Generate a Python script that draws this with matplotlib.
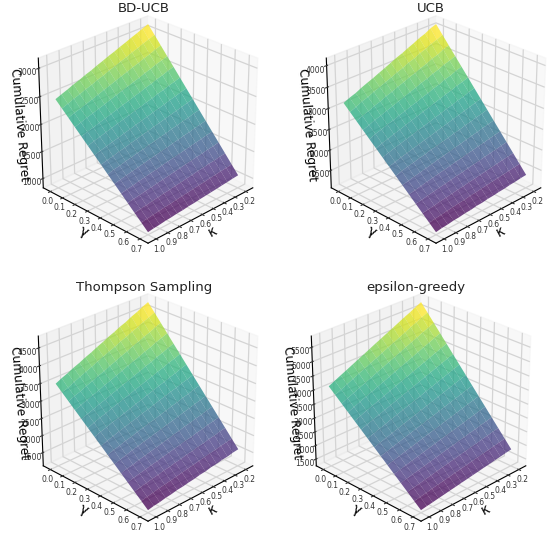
import matplotlib
matplotlib.use("Agg")
import matplotlib.pyplot as plt
from matplotlib.ticker import MultipleLocator
import numpy as np

kappa = [0.2, 0.25, 0.3, 0.35, 0.4, 0.45, 0.5, 0.55, 0.6, 0.65, 0.7, 0.75, 0.8, 0.85, 0.9, 0.95, 1.0]
gamma = [0.0, 0.05, 0.1, 0.15, 0.2, 0.25, 0.3, 0.35, 0.4, 0.45, 0.5, 0.55, 0.6, 0.65, 0.7]
kappa_ticks = [0.2, 0.3, 0.4, 0.5, 0.6, 0.7, 0.8, 0.9, 1.0]
gamma_ticks = [0.0, 0.1, 0.2, 0.3, 0.4, 0.5, 0.6, 0.7]

titles = ["BD-UCB", "UCB", "Thompson Sampling", "epsilon-greedy"]

# rows follow gamma, columns follow kappa, estimated off the surfaces
bd_ucb = [
    [3130, 3090, 3044, 3005, 2960, 2920, 2875, 2837, 2792, 2752, 2705, 2668, 2622, 2585, 2538, 2498, 2455],
    [2982, 2940, 2905, 2860, 2825, 2780, 2745, 2700, 2665, 2620, 2585, 2540, 2505, 2462, 2425, 2380, 2342],
    [2834, 2800, 2755, 2722, 2680, 2645, 2605, 2570, 2530, 2492, 2455, 2415, 2378, 2340, 2300, 2268, 2229],
    [2686, 2648, 2618, 2578, 2545, 2505, 2472, 2435, 2402, 2365, 2330, 2292, 2258, 2222, 2190, 2150, 2115],
    [2538, 2508, 2470, 2440, 2402, 2372, 2335, 2305, 2270, 2238, 2203, 2170, 2136, 2105, 2068, 2038, 2002],
    [2391, 2358, 2330, 2295, 2268, 2232, 2205, 2170, 2142, 2110, 2078, 2050, 2015, 1988, 1952, 1925, 1889],
    [2243, 2216, 2184, 2158, 2126, 2098, 2070, 2040, 2012, 1985, 1953, 1928, 1895, 1870, 1838, 1812, 1776],
    [2095, 2070, 2040, 2016, 1988, 1962, 1935, 1910, 1880, 1858, 1827, 1802, 1772, 1750, 1718, 1695, 1663],
    [1947, 1925, 1896, 1875, 1848, 1826, 1798, 1778, 1750, 1730, 1700, 1680, 1652, 1632, 1600, 1582, 1549],
    [1799, 1778, 1755, 1730, 1710, 1686, 1665, 1640, 1620, 1596, 1575, 1552, 1530, 1508, 1485, 1460, 1436],
    [1651, 1632, 1610, 1590, 1570, 1550, 1528, 1510, 1488, 1470, 1445, 1428, 1405, 1388, 1362, 1345, 1323],
    [1504, 1484, 1468, 1448, 1432, 1412, 1396, 1376, 1360, 1340, 1322, 1304, 1285, 1268, 1248, 1232, 1210],
    [1356, 1342, 1322, 1310, 1290, 1278, 1258, 1244, 1226, 1212, 1192, 1180, 1160, 1146, 1126, 1114, 1096],
    [1208, 1192, 1180, 1165, 1152, 1136, 1124, 1110, 1095, 1082, 1068, 1052, 1040, 1024, 1012, 996, 983],
    [1060, 1050, 1036, 1026, 1012, 1002, 990, 980, 965, 958, 942, 935, 920, 912, 896, 886, 870],
]
ucb = [
    [4110, 4062, 3985, 3935, 3865, 3805, 3738, 3685, 3620, 3555, 3495, 3430, 3375, 3315, 3245, 3195, 3130],
    [3916, 3850, 3805, 3735, 3690, 3620, 3575, 3505, 3455, 3395, 3340, 3280, 3225, 3160, 3115, 3045, 2987],
    [3721, 3675, 3605, 3565, 3500, 3450, 3390, 3345, 3285, 3235, 3175, 3130, 3065, 3020, 2955, 2905, 2844],
    [3527, 3470, 3430, 3370, 3325, 3265, 3225, 3165, 3120, 3065, 3015, 2960, 2915, 2860, 2815, 2755, 2701],
    [3333, 3290, 3232, 3195, 3135, 3095, 3040, 3000, 2945, 2905, 2850, 2810, 2755, 2715, 2660, 2620, 2558],
    [3139, 3088, 3052, 3000, 2962, 2915, 2872, 2825, 2782, 2735, 2695, 2650, 2600, 2560, 2510, 2470, 2416],
    [2944, 2905, 2855, 2822, 2775, 2740, 2690, 2655, 2610, 2570, 2530, 2488, 2445, 2405, 2365, 2320, 2273],
    [2750, 2715, 2670, 2640, 2595, 2560, 2520, 2485, 2445, 2408, 2370, 2332, 2292, 2255, 2220, 2175, 2130],
    [2556, 2515, 2490, 2445, 2420, 2375, 2350, 2310, 2280, 2240, 2215, 2170, 2145, 2105, 2075, 2035, 1987],
    [2361, 2332, 2298, 2268, 2235, 2205, 2170, 2140, 2108, 2075, 2045, 2010, 1980, 1945, 1915, 1880, 1844],
    [2167, 2135, 2112, 2078, 2055, 2022, 1998, 1965, 1938, 1910, 1880, 1855, 1822, 1798, 1765, 1735, 1701],
    [1973, 1950, 1920, 1898, 1870, 1845, 1820, 1795, 1765, 1745, 1715, 1690, 1665, 1640, 1615, 1585, 1558],
    [1779, 1752, 1735, 1708, 1690, 1662, 1645, 1618, 1600, 1572, 1555, 1530, 1505, 1490, 1460, 1440, 1416],
    [1584, 1568, 1545, 1530, 1505, 1490, 1470, 1452, 1430, 1415, 1390, 1378, 1355, 1338, 1315, 1298, 1273],
    [1390, 1378, 1358, 1348, 1325, 1315, 1295, 1285, 1262, 1255, 1230, 1222, 1200, 1190, 1168, 1155, 1130],
]
thompson = [
    [4750, 4680, 4590, 4520, 4430, 4365, 4280, 4210, 4125, 4050, 3965, 3895, 3810, 3740, 3655, 3585, 3500],
    [4525, 4445, 4380, 4295, 4230, 4150, 4085, 4000, 3935, 3860, 3785, 3705, 3635, 3560, 3485, 3400, 3334],
    [4300, 4235, 4155, 4095, 4020, 3955, 3875, 3815, 3735, 3670, 3590, 3530, 3450, 3385, 3305, 3245, 3169],
    [4075, 4005, 3945, 3870, 3810, 3740, 3675, 3610, 3540, 3475, 3405, 3345, 3270, 3205, 3140, 3070, 3003],
    [3850, 3790, 3722, 3665, 3595, 3540, 3470, 3415, 3345, 3285, 3220, 3160, 3090, 3035, 2965, 2905, 2837],
    [3625, 3562, 3510, 3445, 3392, 3330, 3275, 3215, 3160, 3095, 3040, 2980, 2925, 2860, 2810, 2745, 2671],
    [3400, 3350, 3288, 3240, 3180, 3130, 3070, 3020, 2955, 2910, 2845, 2800, 2735, 2690, 2625, 2575, 2506],
    [3175, 3120, 3075, 3020, 2975, 2920, 2875, 2820, 2765, 2725, 2665, 2620, 2565, 2520, 2460, 2410, 2340],
    [2950, 2905, 2850, 2810, 2755, 2715, 2660, 2620, 2565, 2530, 2475, 2435, 2380, 2340, 2285, 2240, 2174],
    [2725, 2680, 2640, 2590, 2550, 2505, 2460, 2420, 2370, 2330, 2285, 2245, 2200, 2160, 2110, 2060, 2009],
    [2500, 2462, 2415, 2382, 2335, 2300, 2255, 2220, 2170, 2135, 2090, 2055, 2010, 1975, 1925, 1890, 1843],
    [2275, 2235, 2205, 2162, 2130, 2090, 2060, 2020, 1985, 1945, 1910, 1870, 1840, 1800, 1765, 1725, 1677],
    [2050, 2020, 1980, 1955, 1915, 1890, 1850, 1825, 1780, 1760, 1715, 1695, 1650, 1625, 1590, 1555, 1511],
    [1825, 1795, 1768, 1738, 1710, 1680, 1650, 1620, 1590, 1560, 1530, 1500, 1470, 1445, 1410, 1380, 1346],
    [1600, 1580, 1545, 1530, 1495, 1480, 1440, 1425, 1390, 1370, 1340, 1325, 1290, 1270, 1235, 1215, 1180],
]
epsilon = [
    [5790, 5690, 5580, 5485, 5380, 5275, 5175, 5070, 4970, 4865, 4760, 4660, 4555, 4450, 4350, 4245, 4140],
    [5509, 5415, 5310, 5220, 5115, 5020, 4920, 4825, 4725, 4625, 4530, 4430, 4335, 4235, 4135, 4040, 3940],
    [5229, 5130, 5045, 4945, 4860, 4765, 4670, 4575, 4485, 4390, 4300, 4205, 4110, 4020, 3925, 3835, 3740],
    [4948, 4865, 4770, 4690, 4595, 4510, 4420, 4335, 4245, 4160, 4070, 3985, 3895, 3810, 3720, 3630, 3540],
    [4667, 4580, 4505, 4420, 4340, 4255, 4175, 4090, 4010, 3925, 3845, 3760, 3680, 3595, 3515, 3425, 3340],
    [4387, 4310, 4230, 4155, 4075, 4000, 3920, 3845, 3765, 3690, 3610, 3535, 3455, 3380, 3300, 3220, 3140],
    [4106, 4030, 3960, 3885, 3815, 3740, 3670, 3595, 3525, 3450, 3380, 3305, 3235, 3160, 3090, 3010, 2940],
    [3825, 3760, 3690, 3625, 3555, 3490, 3420, 3350, 3285, 3215, 3150, 3080, 3015, 2945, 2880, 2805, 2740],
    [3544, 3480, 3420, 3355, 3295, 3230, 3170, 3105, 3045, 2980, 2920, 2855, 2795, 2730, 2670, 2600, 2540],
    [3264, 3205, 3150, 3090, 3035, 2975, 2920, 2860, 2805, 2745, 2690, 2630, 2575, 2515, 2460, 2395, 2340],
    [2983, 2930, 2880, 2825, 2775, 2720, 2670, 2615, 2565, 2510, 2460, 2405, 2355, 2300, 2250, 2190, 2140],
    [2702, 2655, 2610, 2560, 2515, 2465, 2420, 2370, 2325, 2275, 2230, 2180, 2135, 2085, 2040, 1985, 1940],
    [2421, 2380, 2335, 2295, 2250, 2210, 2165, 2125, 2080, 2040, 1995, 1955, 1910, 1870, 1825, 1785, 1740],
    [2141, 2105, 2065, 2030, 1990, 1955, 1915, 1880, 1840, 1805, 1765, 1730, 1690, 1655, 1615, 1580, 1540],
    [1860, 1830, 1795, 1765, 1730, 1700, 1665, 1635, 1600, 1570, 1535, 1505, 1470, 1440, 1405, 1375, 1340],
]
surfaces = [bd_ucb, ucb, thompson, epsilon]

W, H = 549, 536
fig = plt.figure(figsize=(W / 100, H / 100), dpi=100)

# box centre and title centre in pixels from the top left
centres = [(144.5, 128), (432.5, 128), (144.5, 406), (417.5, 406)]
title_pos = [(144, 8), (431, 9), (144, 288), (416, 288)]
size = 262

K, G = np.meshgrid(kappa, gamma)

for i in range(4):
    cx, cy = centres[i]
    ax = fig.add_axes([(cx - size / 2) / W, 1 - (cy + size / 2) / H, size / W, size / H],
                      projection="3d")
    ax.patch.set_alpha(0)
    ax.plot_surface(K, G, np.array(surfaces[i]), cmap="viridis", alpha=0.75,
                    linewidth=0, antialiased=True)
    ax.set_xlim(0.133, 1.067)
    ax.set_ylim(-0.059, 0.759)
    ax.view_init(elev=27, azim=45)
    ax.set_box_aspect((1, 1, 0.96), zoom=0.96)
    ax.xaxis.set_rotate_label(True)
    ax.yaxis.set_rotate_label(True)
    ax.set_xlabel("κ", fontsize=10, labelpad=-12)
    ax.set_ylabel("γ", fontsize=10, labelpad=-12)
    ax.zaxis.set_rotate_label(False)
    ax.set_zlabel("Cumulative Regret", fontsize=8.7, rotation=-85, labelpad=-11)
    ax.set_xticks(kappa_ticks)
    ax.set_yticks(gamma_ticks)
    ax.zaxis.set_major_locator(MultipleLocator(500))
    ax.tick_params(axis="x", labelsize=5.5, pad=-5, colors="#333333")
    ax.tick_params(axis="y", labelsize=5.5, pad=-5, colors="#333333")
    ax.tick_params(axis="z", labelsize=5.5, pad=-3, colors="#333333")
    for axis in (ax.xaxis, ax.yaxis, ax.zaxis):
        axis._axinfo["grid"]["color"] = "#d4d4d4"
        axis._axinfo["grid"]["linewidth"] = 0.9
    fig.text(title_pos[i][0] / W, 1 - title_pos[i][1] / H, titles[i], fontsize=9.5,
             ha="center", va="center", color="#222222")

fig.savefig("out.png", dpi=100)
